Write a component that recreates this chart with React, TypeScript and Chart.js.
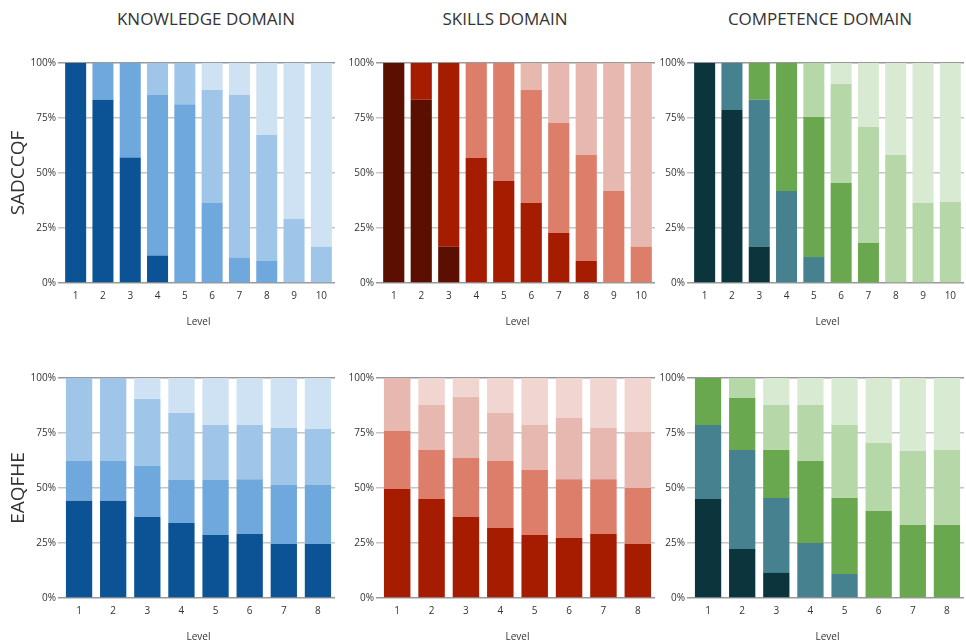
import React, { useEffect, useRef } from "react";
import { Chart, registerables } from "chart.js";

Chart.register(...registerables);

// ---------- data ----------
const levels10 = ["1", "2", "3", "4", "5", "6", "7", "8", "9", "10"];
const levels8 = ["1", "2", "3", "4", "5", "6", "7", "8"];
const yTicks = [0, 25, 50, 75, 100];

const columnTitles = ["KNOWLEDGE DOMAIN", "SKILLS DOMAIN", "COMPETENCE DOMAIN"];
const rowTitles = ["SADCCQF", "EAQFHE"];
const xTitle = "Level";

// palettes (bottom segment first)
const blueColors = ["#0b5394", "#6fa8dc", "#9fc5e8", "#cfe2f3"];
const redColors = ["#5b0f00", "#a61c00", "#dd7e6b", "#e6b8af", "#f0d5d0"];
const greenColors = ["#0c343d", "#45818e", "#6aa84f", "#b6d7a8", "#d9ead3"];

// SADCCQF – Knowledge
const sadcKnow1 = [100, 83.3, 57, 12.5, 0, 0, 0, 0, 0, 0];
const sadcKnow2 = [0, 16.7, 43, 73.2, 81.3, 36.4, 11.4, 10, 0, 0];
const sadcKnow3 = [0, 0, 0, 14.3, 18.7, 51.3, 74, 57.3, 29.2, 16.5];
const sadcKnow4 = [0, 0, 0, 0, 0, 12.3, 14.6, 32.7, 70.8, 83.5];

// SADCCQF – Skills
const sadcSkill1 = [100, 83.3, 16.5, 0, 0, 0, 0, 0, 0, 0];
const sadcSkill2 = [0, 16.7, 83.5, 56.8, 46.4, 36.4, 22.7, 10, 0, 0];
const sadcSkill3 = [0, 0, 0, 43.2, 53.6, 51.3, 50, 48.2, 41.8, 16.5];
const sadcSkill4 = [0, 0, 0, 0, 0, 12.3, 27.3, 41.8, 58.2, 83.5];

// SADCCQF – Competence
const sadcComp1 = [100, 78.6, 16.5, 0, 0, 0, 0, 0, 0, 0];
const sadcComp2 = [0, 21.4, 66.8, 41.8, 11.8, 0, 0, 0, 0, 0];
const sadcComp3 = [0, 0, 16.7, 58.2, 63.7, 45.5, 18.2, 0, 0, 0];
const sadcComp4 = [0, 0, 0, 0, 24.5, 45, 52.7, 58.2, 36.4, 36.8];
const sadcComp5 = [0, 0, 0, 0, 0, 9.5, 29.1, 41.8, 63.6, 63.2];

// EAQFHE – Knowledge
const eaqKnow1 = [44.2, 44.2, 36.8, 34.1, 28.6, 29.1, 24.5, 24.5];
const eaqKnow2 = [18.1, 18.1, 23.2, 19.5, 25, 24.9, 26.9, 26.9];
const eaqKnow3 = [37.7, 37.7, 30.5, 30.5, 25, 24.6, 25.9, 25.4];
const eaqKnow4 = [0, 0, 9.5, 15.9, 21.4, 21.4, 22.7, 23.2];

// EAQFHE – Skills
const eaqSkill1 = [49.5, 45, 36.8, 31.8, 28.6, 27.3, 29.1, 24.5];
const eaqSkill2 = [26.4, 22.3, 26.8, 30.5, 29.6, 26.7, 24.9, 25.5];
const eaqSkill3 = [24.1, 20.4, 27.8, 21.8, 20.4, 27.8, 23.3, 25.5];
const eaqSkill4 = [0, 12.3, 8.6, 15.9, 21.4, 18.2, 22.7, 24.5];

// EAQFHE – Competence
const eaqComp1 = [45, 22.3, 11.4, 0, 0, 0, 0, 0];
const eaqComp2 = [33.6, 45, 34.1, 25, 10.9, 0, 0, 0];
const eaqComp3 = [21.4, 23.6, 21.8, 37.3, 34.6, 39.5, 33.2, 33.2];
const eaqComp4 = [0, 9.1, 20.4, 25.4, 33.1, 31, 33.6, 34.1];
const eaqComp5 = [0, 0, 12.3, 12.3, 21.4, 29.5, 33.2, 32.7];

const FONT = "'Open Sans', 'Noto Sans', sans-serif";

type Series = { label: string; data: number[]; color: string };

type PanelProps = {
  left: number;
  top: number;
  width: number;
  height: number;
  yAxisWidth: number;
  labels: string[];
  series: Series[];
  yTitle?: string;
};

function Panel({ left, top, width, height, yAxisWidth, labels, series, yTitle }: PanelProps) {
  const ref = useRef<HTMLCanvasElement | null>(null);
  useEffect(() => {
    if (!ref.current) return;
    const chart = new Chart(ref.current, {
      type: "bar",
      data: {
        labels,
        datasets: series.map((s) => ({
          label: s.label,
          data: s.data,
          backgroundColor: s.color,
          borderWidth: 0,
          barPercentage: 0.77,
          categoryPercentage: 1,
        })),
      },
      options: {
        responsive: false,
        animation: false,
        layout: { padding: { top: 10, right: 2, bottom: 0, left: 0 } },
        plugins: { legend: { display: false }, tooltip: { enabled: false } },
        scales: {
          x: {
            stacked: true,
            grid: { display: false, drawTicks: false },
            border: { display: false },
            ticks: { color: "#333", font: { family: FONT, size: 10 }, padding: 7 },
            title: {
              display: true,
              text: xTitle,
              color: "#333",
              font: { family: FONT, size: 10 },
              padding: { top: 0, bottom: 3 },
            },
            afterFit: (scale: any) => {
              scale.height = 48;
            },
          },
          y: {
            stacked: true,
            min: 0,
            max: 100,
            afterBuildTicks: (scale: any) => {
              scale.ticks = yTicks.map((v) => ({ value: v }));
            },
            grid: {
              color: (ctx: any) =>
                ctx.tick && (ctx.tick.value === 0 || ctx.tick.value === 100) ? "#999999" : "#c6c6c6",
              lineWidth: 1.5,
              tickLength: 4,
            },
            border: { display: false },
            ticks: {
              color: "#333",
              font: { family: FONT, size: 10 },
              padding: 2,
              callback: (v: any) => v + "%",
            },
            title: yTitle
              ? {
                  display: true,
                  text: yTitle,
                  color: "#333",
                  font: { family: FONT, size: 19, weight: "normal" },
                  padding: { top: 7, bottom: 0 },
                }
              : { display: false },
            afterFit: (scale: any) => {
              scale.width = yAxisWidth;
            },
          },
        },
      } as any,
    });
    return () => chart.destroy();
  }, []);
  return (
    <div style={{ position: "absolute", left, top, width, height }}>
      <canvas ref={ref} width={width} height={height} style={{ width, height, display: "block" }} />
    </div>
  );
}

const mk = (data: number[][], colors: string[]): Series[] =>
  data.map((d, i) => ({ label: "Category " + (i + 1), data: d, color: colors[i] }));

export default function App() {
  const rowTops = [53, 368];
  const cols = [
    { left: 0, width: 337, yAxisWidth: 62 },
    { left: 340, width: 317, yAxisWidth: 40 },
    { left: 651, width: 315, yAxisWidth: 40 },
  ];
  const titleCenters = [206, 505, 820];

  const panels = [
    [
      { labels: levels10, series: mk([sadcKnow1, sadcKnow2, sadcKnow3, sadcKnow4], blueColors) },
      { labels: levels10, series: mk([sadcSkill1, sadcSkill2, sadcSkill3, sadcSkill4], redColors) },
      { labels: levels10, series: mk([sadcComp1, sadcComp2, sadcComp3, sadcComp4, sadcComp5], greenColors) },
    ],
    [
      { labels: levels8, series: mk([eaqKnow1, eaqKnow2, eaqKnow3, eaqKnow4], blueColors) },
      { labels: levels8, series: mk([eaqSkill1, eaqSkill2, eaqSkill3, eaqSkill4], redColors.slice(1)) },
      { labels: levels8, series: mk([eaqComp1, eaqComp2, eaqComp3, eaqComp4, eaqComp5], greenColors) },
    ],
  ];

  return (
    <div
      style={{
        position: "absolute",
        left: 0,
        top: 0,
        width: 966,
        height: 642,
        overflow: "hidden",
        background: "#fff",
        fontFamily: FONT,
      }}
    >
      {columnTitles.map((t, i) => (
        <div
          key={t}
          style={{
            position: "absolute",
            left: titleCenters[i] - 150,
            width: 300,
            top: 7,
            textAlign: "center",
            fontSize: 17,
            color: "#333",
            lineHeight: "24px",
            whiteSpace: "nowrap",
          }}
        >
          {t}
        </div>
      ))}
      {panels.map((row, r) =>
        row.map((p, c) => (
          <Panel
            key={r + "-" + c}
            left={cols[c].left}
            top={rowTops[r]}
            width={cols[c].width}
            height={278}
            yAxisWidth={cols[c].yAxisWidth}
            labels={p.labels}
            series={p.series}
            yTitle={c === 0 ? rowTitles[r] : undefined}
          />
        ))
      )}
    </div>
  );
}
